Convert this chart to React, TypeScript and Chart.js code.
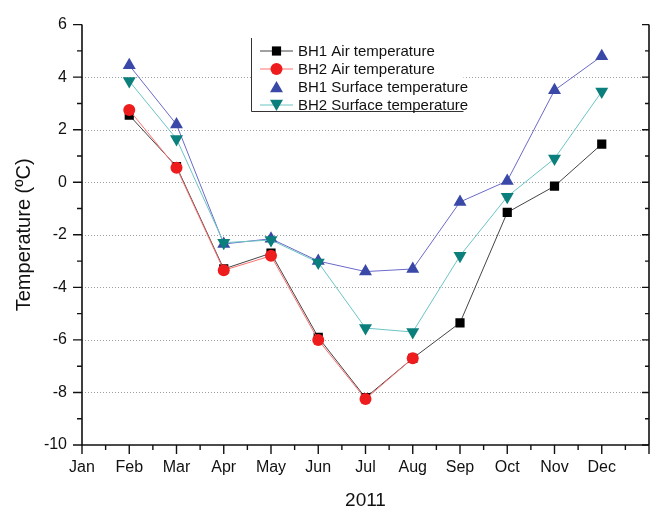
import React, { useEffect, useRef } from 'react';
import { Chart, registerables } from 'chart.js';

Chart.register(...registerables);

// ---- Data ----
const monthLabels = ['Jan', 'Feb', 'Mar', 'Apr', 'May', 'Jun', 'Jul', 'Aug', 'Sep', 'Oct', 'Nov', 'Dec'];
const fullMonths = [2, 3, 4, 5, 6, 7, 8, 9, 10, 11, 12];
const bh2AirMonths = [2, 3, 4, 5, 6, 7, 8];
const bh1Air = [2.55, 0.6, -3.3, -2.7, -5.9, -8.2, -6.7, -5.35, -1.15, -0.15, 1.45];
const bh2Air = [2.75, 0.55, -3.35, -2.8, -6.0, -8.25, -6.7];
const bh1Surface = [4.45, 2.2, -2.35, -2.15, -3.0, -3.4, -3.3, -0.75, 0.05, 3.5, 4.8];
const bh2Surface = [3.85, 1.65, -2.3, -2.2, -3.05, -5.55, -5.7, -2.8, -0.55, 0.9, 3.45];
const yMajorTicks = [-10, -8, -6, -4, -2, 0, 2, 4, 6];
const yGridValues = [-8, -6, -4, -2, 0, 2, 4];
const seriesNames = ['BH1 Air temperature', 'BH2 Air temperature', 'BH1 Surface temperature', 'BH2 Surface temperature'];
const xAxisTitle = '2011';
const yAxisTitle = 'Temperature (ºC)';

const FONT = "'Liberation Sans', Arial, sans-serif";

const toPoints = (xs: number[], ys: number[]) => xs.map((m, i) => ({ x: m, y: ys[i] }));

type LegendEntry = { label: string; marker: string; markerColor: string; lineColor: string | null; rotation: number; r: number };

const legendEntries: LegendEntry[] = [
  { label: seriesNames[0], marker: 'rect', markerColor: '#000000', lineColor: '#444444', rotation: 0, r: 6.5 },
  { label: seriesNames[1], marker: 'circle', markerColor: '#ee1c1c', lineColor: '#ff7070', rotation: 0, r: 6 },
  { label: seriesNames[2], marker: 'triangle', markerColor: '#3a48a8', lineColor: null, rotation: 0, r: 7.5 },
  { label: seriesNames[3], marker: 'triangle', markerColor: '#0b7f7c', lineColor: '#6cc4c4', rotation: 180, r: 7.5 },
];

function drawMarker(ctx: CanvasRenderingContext2D, style: string, x: number, y: number, r: number, rotationDeg: number, color: string) {
  ctx.save();
  ctx.fillStyle = color;
  ctx.beginPath();
  if (style === 'rect') {
    const s = Math.SQRT1_2 * r;
    ctx.rect(x - s, y - s, 2 * s, 2 * s);
  } else if (style === 'circle') {
    ctx.arc(x, y, r, 0, Math.PI * 2);
  } else {
    let rad = (rotationDeg * Math.PI) / 180;
    ctx.moveTo(x + Math.sin(rad) * r, y - Math.cos(rad) * r);
    rad += (2 * Math.PI) / 3;
    ctx.lineTo(x + Math.sin(rad) * r, y - Math.cos(rad) * r);
    rad += (2 * Math.PI) / 3;
    ctx.lineTo(x + Math.sin(rad) * r, y - Math.cos(rad) * r);
    ctx.closePath();
  }
  ctx.fill();
  ctx.restore();
}

const framePlugin = {
  id: 'frameAndLegend',
  beforeDatasetsDraw(chart: any) {
    const { ctx, chartArea, scales } = chart;
    const y = scales.y;
    ctx.save();
    ctx.strokeStyle = '#a0a0a0';
    ctx.lineWidth = 1;
    ctx.setLineDash([1, 2]);
    for (const v of yGridValues) {
      const py = Math.round(y.getPixelForValue(v)) + 0.5;
      ctx.beginPath();
      ctx.moveTo(chartArea.left, py);
      ctx.lineTo(chartArea.right, py);
      ctx.stroke();
    }
    ctx.restore();
  },
  afterDraw(chart: any) {
    const { ctx, chartArea, scales } = chart;
    const { left, right, top, bottom } = chartArea;
    const x = scales.x;
    const y = scales.y;
    ctx.save();
    ctx.strokeStyle = '#111111';
    ctx.lineWidth = 1.6;
    ctx.setLineDash([]);
    // axis lines
    ctx.beginPath();
    ctx.moveTo(left, top);
    ctx.lineTo(left, bottom);
    ctx.lineTo(right, bottom);
    ctx.moveTo(right, top);
    ctx.lineTo(right, bottom);
    ctx.stroke();
    // y ticks
    ctx.lineWidth = 1.4;
    ctx.beginPath();
    for (let v = -10; v <= 6; v += 1) {
      const py = y.getPixelForValue(v);
      const major = v % 2 === 0;
      ctx.moveTo(left, py);
      ctx.lineTo(left - (major ? 9 : 5), py);
      ctx.moveTo(right, py);
      ctx.lineTo(right - (major ? 7 : 4), py);
    }
    // x ticks
    for (let m = 1; m <= 13; m += 0.5) {
      const px = x.getPixelForValue(m);
      const major = Number.isInteger(m);
      ctx.moveTo(px, bottom);
      ctx.lineTo(px, bottom + (major ? 9 : 5));
    }
    ctx.stroke();

    // legend
    const lx = 251.5;
    const ly = 38;
    const lw = 212;
    const lh = 74;
    ctx.fillStyle = '#ffffff';
    ctx.fillRect(lx + 1, ly, lw - 1, lh - 1);
    ctx.strokeStyle = '#333333';
    ctx.lineWidth = 1;
    ctx.beginPath();
    ctx.moveTo(lx, ly);
    ctx.lineTo(lx, ly + lh - 0.5);
    ctx.lineTo(lx + lw, ly + lh - 0.5);
    ctx.stroke();
    ctx.font = `15px ${FONT}`;
    ctx.textBaseline = 'middle';
    ctx.textAlign = 'left';
    legendEntries.forEach((e, i) => {
      const cy = 51 + i * 18;
      if (e.lineColor) {
        ctx.strokeStyle = e.lineColor;
        ctx.lineWidth = 1;
        ctx.beginPath();
        ctx.moveTo(260, cy);
        ctx.lineTo(293, cy);
        ctx.stroke();
      }
      drawMarker(ctx, e.marker, 276.5, e.marker === 'triangle' ? cy + (e.rotation ? -1.5 : 1.5) : cy, e.r, e.rotation, e.markerColor);
      ctx.fillStyle = '#111111';
      ctx.fillText(e.label, 298, cy + 1);
    });
    ctx.restore();
  },
};

export default function App() {
  const canvasRef = useRef<HTMLCanvasElement | null>(null);

  useEffect(() => {
    if (!canvasRef.current) return;
    const chart = new Chart(canvasRef.current, {
      type: 'line',
      data: {
        datasets: [
          {
            label: seriesNames[0],
            data: toPoints(fullMonths, bh1Air),
            borderColor: '#444444',
            backgroundColor: '#000000',
            borderWidth: 1,
            pointStyle: 'rect',
            pointRadius: 6.5,
            pointBorderWidth: 0,
            pointBackgroundColor: '#000000',
            order: 4,
          },
          {
            label: seriesNames[1],
            data: toPoints(bh2AirMonths, bh2Air),
            borderColor: '#ff7070',
            backgroundColor: '#ee1c1c',
            borderWidth: 1,
            pointStyle: 'circle',
            pointRadius: 6,
            pointBorderWidth: 0,
            pointBackgroundColor: '#ee1c1c',
            order: 3,
          },
          {
            label: seriesNames[2],
            data: toPoints(fullMonths, bh1Surface),
            borderColor: '#6a6ac8',
            backgroundColor: '#3a48a8',
            borderWidth: 1,
            pointStyle: 'triangle',
            pointRadius: 7.5,
            pointBorderWidth: 0,
            pointBackgroundColor: '#3a48a8',
            order: 2,
          },
          {
            label: seriesNames[3],
            data: toPoints(fullMonths, bh2Surface),
            borderColor: '#6cc4c4',
            backgroundColor: '#0b7f7c',
            borderWidth: 1,
            pointStyle: 'triangle',
            pointRotation: 180,
            pointRadius: 7.5,
            pointBorderWidth: 0,
            pointBackgroundColor: '#0b7f7c',
            order: 1,
          },
        ],
      },
      options: {
        animation: false,
        responsive: true,
        maintainAspectRatio: false,
        layout: { padding: { left: 0, top: 16, right: 4, bottom: 0 } },
        plugins: { legend: { display: false }, tooltip: { enabled: false } },
        elements: { line: { tension: 0 } },
        scales: {
          x: {
            type: 'linear',
            min: 1,
            max: 13,
            grid: { display: false, drawTicks: false },
            border: { display: false },
            ticks: {
              stepSize: 1,
              autoSkip: false,
              maxRotation: 0,
              padding: 13,
              color: '#111111',
              font: { family: FONT, size: 16 },
              callback: (v: any) => (Number.isInteger(v) && v >= 1 && v <= 12 ? monthLabels[v - 1] : ''),
            },
            title: {
              display: true,
              text: xAxisTitle,
              color: '#111111',
              font: { family: FONT, size: 19, lineHeight: 0.75 },
              padding: { top: 0, bottom: 0 },
            },
            afterFit: (scale: any) => {
              scale.height = 63;
            },
          },
          y: {
            min: -10,
            max: 6,
            afterBuildTicks: (scale: any) => {
              scale.ticks = yMajorTicks.map((v) => ({ value: v }));
            },
            grid: { display: false, drawTicks: false },
            border: { display: false },
            ticks: {
              padding: 15,
              color: '#111111',
              font: { family: FONT, size: 16 },
            },
            title: {
              display: true,
              text: yAxisTitle,
              color: '#111111',
              font: { family: FONT, size: 20, lineHeight: 1.2 },
              padding: { top: 12, bottom: 0 },
            },
            afterFit: (scale: any) => {
              scale.width = 82;
            },
          },
        },
      },
      plugins: [framePlugin],
    } as any);
    return () => chart.destroy();
  }, []);

  return (
    <div style={{ position: 'fixed', left: 0, top: 0, width: 662, height: 508, background: '#ffffff' }}>
      <canvas ref={canvasRef} />
    </div>
  );
}
